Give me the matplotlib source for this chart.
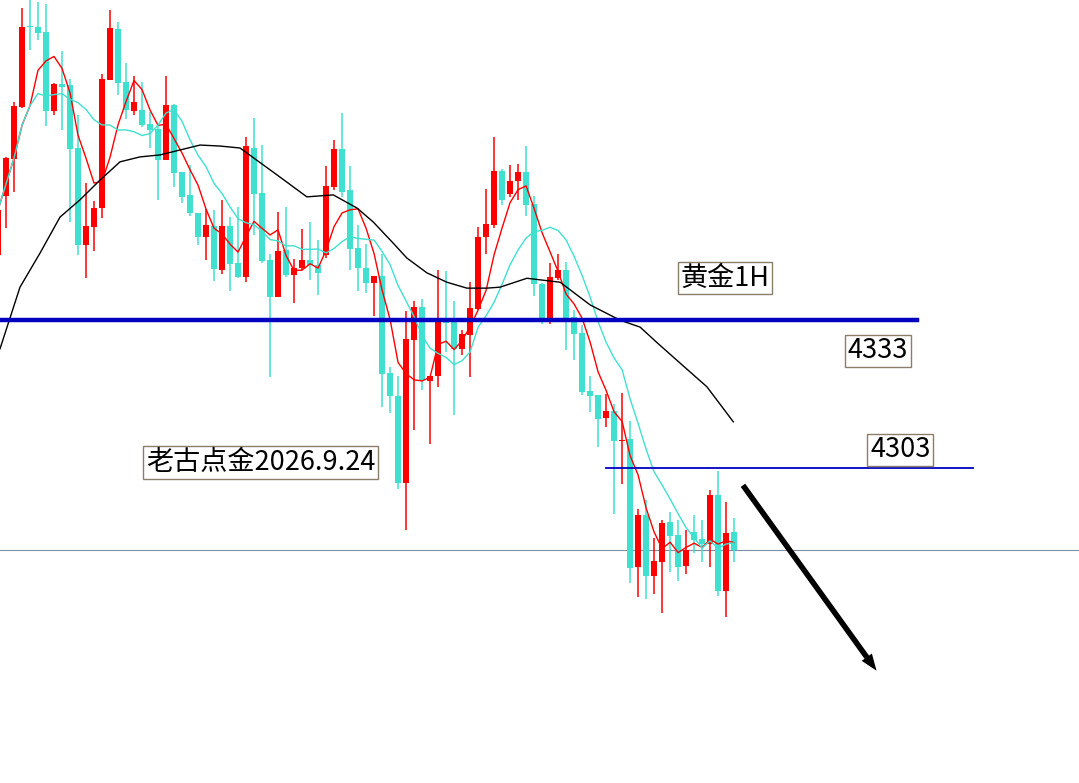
import matplotlib
matplotlib.use("Agg")
import matplotlib.pyplot as plt
import numpy as np
import pandas as pd

plt.rcParams['font.family'] = ['Noto Sans CJK SC', 'DejaVu Sans']

opens = [4346.2,4358.2,4365.7,4376.2,4392.6,4392.4,4391.4,4375.4,4380.9,4380.7,
         4367.9,4348.2,4351.9,4355.7,4381.7,4392.0,4381.3,4375.4,4375.6,4372.8,
         4371.7,4365.5,4376.6,4363.0,4358.4,4354.7,4349.9,4352.1,4343.2,4352.1,
         4344.6,4341.8,4367.9,4358.8,4345.2,4337.7,4347.2,4342.2,4343.6,4345.2,
         4344.2,4346.2,4360.0,4367.7,4359.4,4347.6,4343.6,4340.5,4342.0,4322.3,
         4317.6,4300.0,4329.0,4335.7,4320.7,4321.7,4333.0,4332.6,4327.2,4330.0,
         4335.3,4349.9,4352.3,4363.2,4358.6,4361.2,4363.0,4356.5,4340.3,4332.8,
         4341.5,4343.2,4333.6,4330.4,4318.6,4317.8,4313.2,4314.6,4308.5,4308.9,
         4283.0,4293.5,4281.1,4284.0,4292.1,4289.5,4283.2,4290.1,4288.6,4287.6,
         4297.6,4278.1,4290.1]
closes = [4355.3,4365.9,4376.4,4392.4,4392.4,4391.2,4375.4,4380.9,4380.3,4367.7,
          4348.2,4352.1,4355.7,4381.9,4392.2,4381.1,4375.6,4377.2,4372.6,4371.6,
          4365.5,4376.6,4362.8,4357.9,4354.7,4349.9,4352.3,4343.4,4352.1,4344.4,
          4341.8,4368.3,4358.6,4345.0,4337.7,4347.0,4342.2,4343.6,4345.2,4344.2,
          4342.6,4360.2,4367.7,4359.0,4347.4,4343.6,4340.5,4342.0,4322.1,4317.6,
          4300.0,4329.2,4335.7,4320.9,4321.7,4333.0,4332.4,4327.2,4330.2,4335.5,
          4349.9,4352.5,4363.2,4357.4,4361.2,4363.0,4356.3,4340.3,4332.8,4341.8,
          4343.2,4333.4,4330.2,4318.4,4317.6,4313.0,4314.6,4308.5,4308.7,4282.8,
          4293.5,4281.1,4284.2,4291.9,4289.3,4283.0,4286.4,4288.4,4287.6,4297.6,
          4278.1,4289.9,4286.4]
highs = [4357.4,4366.1,4377.2,4396.3,4398.9,4397.5,4397.1,4381.1,4387.6,4381.9,
         4374.6,4360.8,4357.2,4382.9,4395.9,4393.4,4385.1,4382.5,4381.3,4375.2,
         4372.6,4382.5,4376.8,4363.0,4364.5,4354.7,4355.5,4355.3,4357.4,4353.9,
         4355.9,4370.1,4374.0,4368.5,4346.4,4354.9,4355.9,4345.4,4351.5,4352.9,
         4349.3,4364.3,4369.5,4375.0,4364.3,4352.3,4348.4,4342.0,4346.4,4323.5,
         4321.7,4334.9,4336.9,4337.3,4321.7,4343.2,4343.0,4336.9,4331.0,4340.7,
         4351.9,4359.6,4370.1,4363.6,4364.5,4364.7,4368.3,4358.2,4340.5,4344.6,
         4346.4,4344.8,4335.1,4332.0,4321.7,4317.8,4318.0,4316.0,4318.2,4312.6,
         4294.7,4296.6,4288.8,4292.5,4294.1,4292.5,4290.5,4293.5,4292.5,4298.6,
         4302.4,4296.1,4292.9]
lows = [4344.2,4351.7,4359.0,4376.0,4387.8,4389.8,4372.4,4374.6,4371.5,4352.9,
        4346.2,4341.5,4347.0,4353.7,4381.7,4378.6,4373.8,4374.6,4372.2,4367.9,
        4357.4,4365.5,4360.0,4356.7,4354.1,4348.2,4345.2,4340.9,4342.4,4338.9,
        4341.5,4340.7,4350.3,4344.6,4321.5,4337.7,4341.8,4336.5,4343.2,4341.2,
        4338.1,4345.6,4359.4,4358.0,4343.2,4338.9,4338.5,4333.8,4315.4,4314.2,
        4298.8,4290.5,4310.7,4318.8,4307.9,4319.5,4326.5,4313.8,4325.9,4321.5,
        4335.1,4346.4,4351.7,4356.3,4358.0,4357.4,4354.1,4337.9,4332.2,4332.2,
        4341.2,4327.0,4324.9,4317.8,4314.4,4307.3,4311.3,4293.7,4299.8,4279.7,
        4276.9,4276.5,4277.5,4273.6,4281.9,4280.1,4281.6,4285.8,4284.0,4283.0,
        4277.1,4272.8,4284.0]

slow_ma_idx = [0.25,2.75,5.25,7.75,10.25,12.75,15.25,17.75,20.25,22.75,25.25,27.75,
               30.25,35.25,38.6,41.9,44.9,46.9,49.4,51.1,53.6,56.1,58.6,61.1,62.75,
               66.1,70.25,74,77.75,80.25,82.4,85.25,88.6,91.9]
slow_ma = [4327.2,4339.7,4346.6,4353.9,4357.4,4361.4,4365.1,4366.1,4366.5,4367.5,4368.5,4368.3,
           4367.9,4362.0,4358.0,4358.4,4355.7,4352.9,4348.6,4345.6,4342.6,4340.7,4339.5,4339.5,4339.7,
           4341.5,4340.7,4336.1,4333.0,4331.6,4328.4,4324.3,4319.5,4312.4]

level_main = 4333
level_sub = 4303
level_now = 4286.4

fig = plt.figure(figsize=(10.79, 7.83), dpi=100)
ax = fig.add_axes([0, 0, 1, 1])
ax.set_axis_off()
ax.set_xlim(0.25, 135.1)
ax.set_ylim(4239.2, 4397.9)

up_c, dn_c = '#ff0000', '#40e0d0'
for i, (o, c, h, l) in enumerate(zip(opens, closes, highs, lows)):
    col = up_c if c >= o else dn_c
    ax.vlines(i, l, h, color=col, lw=1.1, zorder=2)
    ax.bar(i, max(abs(c - o), 0.25), bottom=min(o, c), width=0.72, color=col, lw=0, zorder=3)

cs = pd.Series(closes)
idx = np.arange(len(closes))
ax.plot(idx, cs.rolling(5, min_periods=1).mean(), color='#ff0000', lw=1, zorder=4)
ax.plot(idx, cs.rolling(10, min_periods=1).mean(), color='#40e0d0', lw=1, zorder=4)
ax.plot(slow_ma_idx, slow_ma, color='black', lw=1, zorder=4)

ax.plot([0.25, 114.9], [level_main]*2, color='#0000c0', lw=3.2, zorder=5)
ax.plot([76, 121.9], [level_sub]*2, color='#0000c0', lw=1.3, zorder=5)
ax.axhline(level_now, color='#7f8fa0', lw=0.8, zorder=1)

ax.annotate('', xy=(110.0, 4261.5), xytext=(92.9, 4300.0),
            arrowprops=dict(arrowstyle='simple,head_width=0.9,head_length=1.2,tail_width=0.4',
                            color='black', lw=0), zorder=6)

box = dict(boxstyle='square,pad=0.1', fc='white', ec='#8b7d6b', lw=1)
ax.text(85.3, 4341.5, '黄金1H', fontsize=19.5, ha='left', va='center', bbox=box, zorder=7)
ax.text(106.2, 4326.8, '4333', fontsize=19.5, ha='left', va='center', bbox=box, zorder=7)
ax.text(109.0, 4306.7, '4303', fontsize=19.5, ha='left', va='center', bbox=box, zorder=7)
ax.text(18.5, 4304.2, '老古点金2026.9.24', fontsize=19.5, ha='left', va='center', bbox=box, zorder=7)

fig.savefig('out.png', dpi=100)
